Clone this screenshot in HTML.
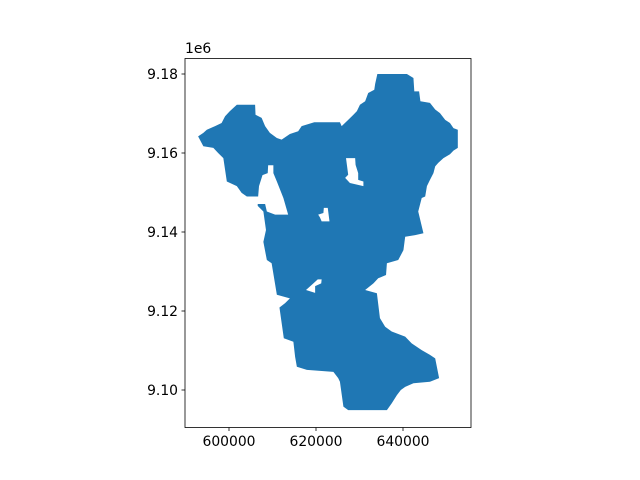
<!DOCTYPE html>
<html><head><meta charset="utf-8"><style>
body{margin:0;background:#fff}
svg{display:block}
text{font-family:"DejaVu Sans","Liberation Sans",sans-serif;font-size:13.9px;fill:#000}
</style></head><body>
<svg id="chart" width="640" height="480">
<rect x="0" y="0" width="640" height="480" fill="#fff"/>
<g id="plot"></g>
<rect x="185" y="58.5" width="286" height="369" fill="none" stroke="#000" stroke-width="0.8"/>
<g id="xaxis"></g>
<g id="yaxis"></g>
<text x="185" y="53">1e6</text>
</svg>
<script>
// Boundary coordinates in km (easting, northing)
const outerE=[634.1,640.9,642.4,642.6,643.7,644.0,646.2,647.4,648.5,649.7,650.8,651.6,652.6,652.6,651.6,650.8,649.3,648.1,647.4,647.0,646.2,645.5,645.1,644.3,643.5,644.7,642.8,640.5,640.1,638.9,636.3,636.1,634.3,633.2,631.3,634.0,634.7,635.9,637.4,640.5,642.0,644.3,646.2,647.4,648.3,646.2,642.4,640.5,639.5,638.6,637.4,636.3,627.4,626.3,625.5,625.1,624.0,617.9,615.6,615.2,614.8,612.6,611.6,612.9,614.0,611.0,609.8,608.7,607.9,608.5,607.9,606.6,606.6,608.3,608.7,610.6,613.6,612.5,611.0,610.2,610.2,609.0,608.9,607.7,606.9,606.7,604.1,602.9,601.8,599.5,598.7,597.5,596.4,594.1,592.9,594.1,594.9,596.8,598.3,599.1,600.2,601.8,606.0,606.1,607.5,608.3,609.4,611.0,612.1,614.0,615.9,616.7,619.6,625.5,625.9,627.4,628.6,629.4,630.1,631.3,632.0,633.4,633.6];
const outerN=[9180.0,9180.0,9179.0,9175.6,9175.6,9173.1,9172.7,9171.0,9170.1,9168.4,9167.6,9166.3,9165.9,9161.3,9160.6,9159.7,9158.7,9157.5,9156.6,9154.9,9153.2,9151.6,9149.0,9148.6,9145.2,9139.7,9139.2,9138.8,9135.4,9132.9,9132.1,9129.1,9128.3,9127.0,9125.3,9124.5,9118.2,9116.0,9114.8,9113.5,9111.8,9110.1,9108.9,9108.0,9103.0,9102.1,9101.7,9100.8,9100.0,9098.7,9096.6,9094.9,9094.9,9095.8,9102.1,9103.0,9104.6,9105.1,9105.9,9108.4,9112.2,9113.1,9120.9,9122.0,9123.2,9124.1,9132.1,9132.9,9137.5,9140.5,9145.2,9146.6,9147.1,9147.1,9145.2,9144.4,9144.4,9148.6,9152.8,9154.9,9156.9,9156.9,9154.9,9154.4,9151.6,9149.0,9149.0,9149.9,9151.6,9152.8,9158.7,9160.0,9161.3,9161.7,9164.2,9165.1,9165.9,9166.8,9167.6,9169.3,9170.6,9172.2,9172.2,9169.7,9168.9,9166.8,9165.1,9163.8,9163.4,9164.8,9165.5,9166.8,9167.8,9167.8,9166.8,9168.4,9169.7,9170.6,9172.2,9173.1,9175.2,9176.0,9177.5];
const hole1E=[626.9,629.0,629.1,629.7,629.7,630.9,630.9,627.8,626.7,627.4];
const hole1N=[9158.7,9158.7,9157.0,9154.9,9153.2,9152.8,9151.6,9152.4,9153.7,9154.5];
const hole2E=[620.5,621.7,621.8,622.7,623.1,621.3,620.9];
const hole2N=[9144.4,9144.8,9146.1,9146.1,9142.7,9142.7,9143.7];
const hole3E=[617.7,618.6,619.4,620.4,621.3,621.2,619.8,619.8];
const hole3N=[9125.3,9126.2,9127.0,9128.0,9128.0,9127.0,9126.3,9124.6];
const xTicks=[600000,620000,640000];
const yTicks=[9.10,9.12,9.14,9.16,9.18];
const yTickLabels=["9.10","9.12","9.14","9.16","9.18"];

function xScale(m){return 229+(m-600000)*87/20000;}
function yScale(m){return 74+(9180000-m)*79/20000;}
const NS="http://www.w3.org/2000/svg";
function ring(E,N){
  let d="";
  for(let i=0;i<E.length;i++){d+=(i?"L":"M")+xScale(E[i]*1000).toFixed(2)+","+yScale(N[i]*1000).toFixed(2);}
  return d+"Z";
}
const plot=document.getElementById("plot");
const poly=document.createElementNS(NS,"path");
poly.setAttribute("d",ring(outerE,outerN)+ring(hole1E,hole1N)+ring(hole2E,hole2N)+ring(hole3E,hole3N));
poly.setAttribute("fill","#1f77b4");
poly.setAttribute("fill-rule","evenodd");


plot.appendChild(poly);

const xa=document.getElementById("xaxis");
xTicks.forEach(v=>{
  const x=xScale(v);
  const t=document.createElementNS(NS,"line");
  t.setAttribute("x1",x);t.setAttribute("x2",x);t.setAttribute("y1",427.5);t.setAttribute("y2",431);
  t.setAttribute("stroke","#000");t.setAttribute("stroke-width","0.8");
  
  
  xa.appendChild(t);
  const l=document.createElementNS(NS,"text");
  l.setAttribute("x",x);l.setAttribute("y",446);l.setAttribute("text-anchor","middle");
  l.textContent=String(v);
  
  
  xa.appendChild(l);
});
const ya=document.getElementById("yaxis");
yTicks.forEach((v,i)=>{
  const y=yScale(v*1e6);
  const t=document.createElementNS(NS,"line");
  t.setAttribute("x1",181.5);t.setAttribute("x2",185);t.setAttribute("y1",y);t.setAttribute("y2",y);
  t.setAttribute("stroke","#000");t.setAttribute("stroke-width","0.8");
  
  
  ya.appendChild(t);
  const l=document.createElementNS(NS,"text");
  l.setAttribute("x",178);l.setAttribute("y",y+5);l.setAttribute("text-anchor","end");
  l.textContent=yTickLabels[i];
  
  
  ya.appendChild(l);
});
</script>
</body></html>
